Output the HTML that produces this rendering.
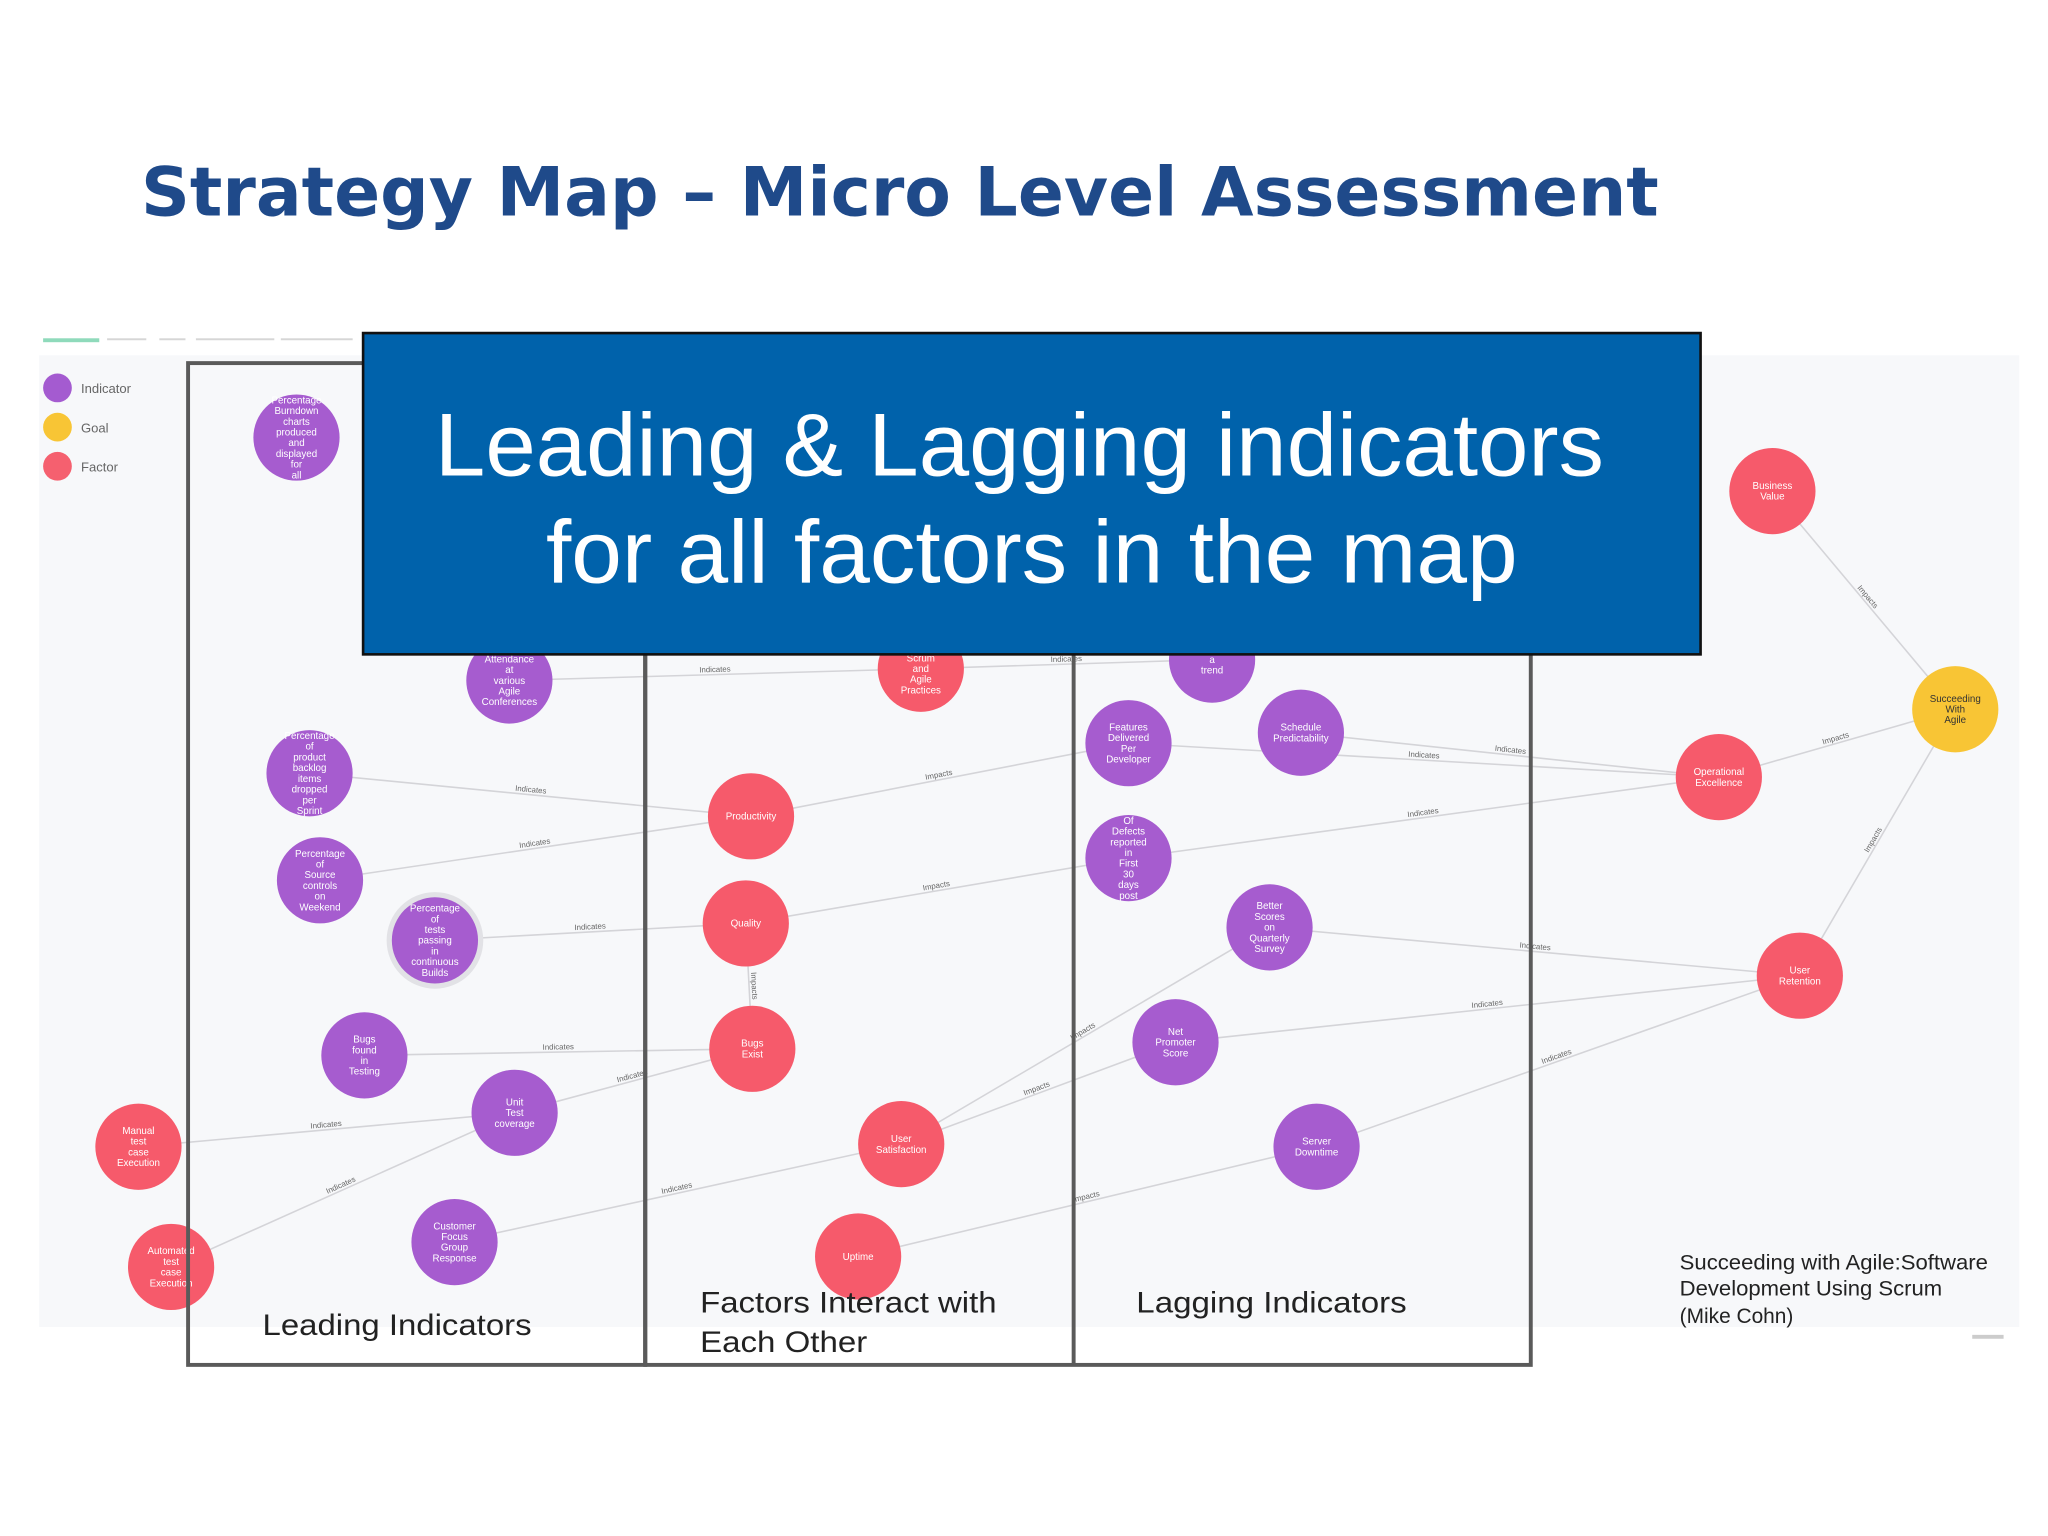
<!DOCTYPE html>
<html><head><meta charset="utf-8"><style>
html,body{margin:0;padding:0;background:#fff;}
svg{display:block;}
</style></head><body>
<svg id="chart" width="2048" height="1536" viewBox="0 0 1568 1176" xmlns="http://www.w3.org/2000/svg" font-family="Liberation Sans, sans-serif">
<rect width="1568" height="1176" fill="#ffffff"/>
<text x="108" y="165" font-family="DejaVu Sans, sans-serif" font-weight="bold" font-size="52" fill="#1f4a8a" textLength="1162" lengthAdjust="spacingAndGlyphs">Strategy Map – Micro Level Assessment</text>
<rect x="30" y="272" width="1516" height="744" fill="#f7f8fa"/>
<rect x="33" y="259" width="43" height="3" fill="#8fdabb"/>
<g fill="#d6d6d6"><rect x="82" y="259" width="30" height="1.5"/><rect x="122" y="259" width="20" height="1.5"/><rect x="150" y="259" width="60" height="1.5"/><rect x="215" y="259" width="55" height="1.5"/></g>
<g id="legend" font-size="10" fill="#666">
<circle cx="44" cy="297" r="11" fill="#a45bd0"/><text x="62" y="301">Indicator</text>
<circle cx="44" cy="327" r="11" fill="#f8c535"/><text x="62" y="331">Goal</text>
<circle cx="44" cy="357" r="11" fill="#f5606f"/><text x="62" y="361">Factor</text>
</g>
<g id="edges"></g>
<g id="nodes"></g>
<g fill="none" stroke="#5a5a5a" stroke-width="3">
<rect x="144" y="278" width="350" height="767"/>
<line x1="494" y1="278" x2="494" y2="1045"/>
<rect x="494" y="278" width="678" height="767"/>
<line x1="822" y1="278" x2="822" y2="1045"/>
</g>
<text x="201" y="1022" font-size="23" fill="#222" textLength="206" lengthAdjust="spacingAndGlyphs">Leading Indicators</text>
<text x="536" y="1005" font-size="23" fill="#222" textLength="227" lengthAdjust="spacingAndGlyphs">Factors Interact with</text>
<text x="536" y="1035" font-size="23" fill="#222" textLength="128" lengthAdjust="spacingAndGlyphs">Each Other</text>
<text x="870" y="1005" font-size="23" fill="#222" textLength="207" lengthAdjust="spacingAndGlyphs">Lagging Indicators</text>
<g font-size="16" fill="#222">
<text x="1286" y="972" textLength="236" lengthAdjust="spacingAndGlyphs">Succeeding with Agile:Software</text>
<text x="1286" y="992" textLength="201" lengthAdjust="spacingAndGlyphs">Development Using Scrum</text>
<text x="1286" y="1013">(Mike Cohn)</text>
</g>
<rect x="1510" y="1022" width="24" height="3" fill="#ccc"/>
<g>
<rect x="278" y="255" width="1024" height="246" fill="#0062ab" stroke="#111" stroke-width="2"/>
<text x="333" y="364" font-size="68" fill="#fff" textLength="895" lengthAdjust="spacingAndGlyphs">Leading &amp; Lagging indicators</text>
<text x="418" y="446" font-size="68" fill="#fff" textLength="744" lengthAdjust="spacingAndGlyphs">for all factors in the map</text>
</g>
</svg>
<script>
const nodeIds=["burndown","attend","backlog","source","tests","bugsfound","unittest","custfocus","trend","features","schedule","defects","better","nps","server","bizval","opex","retention","scrum","product","quality","bugsexist","usersat","uptime","manual","automated","goal"];
const nodeLabels=[["Percentage","Burndown","charts","produced","and","displayed","for","all"],["Attendance","at","various","Agile","Conferences"],["Percentage","of","product","backlog","items","dropped","per","Sprint"],["Percentage","of","Source","controls","on","Weekend"],["Percentage","of","tests","passing","in","continuous","Builds"],["Bugs","found","in","Testing"],["Unit","Test","coverage"],["Customer","Focus","Group","Response"],["to","a","trend"],["Features","Delivered","Per","Developer"],["Schedule","Predictability"],["Of","Defects","reported","in","First","30","days","post"],["Better","Scores","on","Quarterly","Survey"],["Net","Promoter","Score"],["Server","Downtime"],["Business","Value"],["Operational","Excellence"],["User","Retention"],["in","Scrum","and","Agile","Practices"],["Productivity"],["Quality"],["Bugs","Exist"],["User","Satisfaction"],["Uptime"],["Manual","test","case","Execution"],["Automated","test","case","Execution"],["Succeeding","With","Agile"]];
const nodeTypes=["I","I","I","I","I","I","I","I","I","I","I","I","I","I","I","F","F","F","F","F","F","F","F","F","F","F","G"];
const nodeX=[227,390,237,245,333,279,394,348,928,864,996,864,972,900,1008,1357,1316,1378,705,575,571,576,690,657,106,131,1497];
const nodeY=[335,521,592,674,720,808,852,951,505,569,561,657,710,798,878,376,595,747,512,625,707,803,876,962,878,970,543];
const edgeFrom=["attend","scrum","backlog","source","product","tests","quality","quality","bugsfound","unittest","manual","automated","custfocus","usersat","usersat","uptime","features","schedule","defects","better","nps","server","opex","retention","bizval"];
const edgeTo=["scrum","trend","product","product","features","quality","defects","bugsexist","bugsexist","bugsexist","unittest","unittest","usersat","better","nps","server","opex","opex","opex","retention","retention","retention","goal","goal","goal"];
const edgeLabels=["Indicates","Indicates","Indicates","Indicates","Impacts","Indicates","Impacts","Impacts","Indicates","Indicates","Indicates","Indicates","Indicates","Impacts","Impacts","Impacts","Indicates","Indicates","Indicates","Indicates","Indicates","Indicates","Impacts","Impacts","Impacts"];
const colors={I:"#a65ccf",F:"#f65a6b",G:"#f8c535"};
const R=33;
const NS="http://www.w3.org/2000/svg";
const eg=document.getElementById("edges"),ng=document.getElementById("nodes");
function pos(id){const i=nodeIds.indexOf(id);return [nodeX[i],nodeY[i]];}
edgeFrom.forEach((f,i)=>{
 const [x1,y1]=pos(f),[x2,y2]=pos(edgeTo[i]);
 const l=document.createElementNS(NS,"line");
 
 
 l.setAttribute("x1",x1);l.setAttribute("y1",y1);l.setAttribute("x2",x2);l.setAttribute("y2",y2);
 l.setAttribute("stroke","#d4d4d8");l.setAttribute("stroke-width","1.2");
 eg.appendChild(l);
 const t=document.createElementNS(NS,"text");
 
 
 const mx=(x1+x2)/2,my=(y1+y2)/2;
 let a=Math.atan2(y2-y1,x2-x1)*180/Math.PI; if(a>90)a-=180; if(a<-90)a+=180;
 t.setAttribute("x",mx);t.setAttribute("y",my-2);t.setAttribute("font-size","6");t.setAttribute("fill","#666");
 t.setAttribute("text-anchor","middle");t.setAttribute("transform","rotate("+a+" "+mx+" "+my+")");
 t.textContent=edgeLabels[i];eg.appendChild(t);
});
nodeIds.forEach((id,i)=>{
 const g=document.createElementNS(NS,"g");
 
 
 if(id==="tests"){const h=document.createElementNS(NS,"circle");h.setAttribute("cx",nodeX[i]);h.setAttribute("cy",nodeY[i]);h.setAttribute("r",R+4);h.setAttribute("fill","#e2e2e6");g.appendChild(h);}
 const c=document.createElementNS(NS,"circle");
 c.setAttribute("cx",nodeX[i]);c.setAttribute("cy",nodeY[i]);c.setAttribute("r",R);c.setAttribute("fill",colors[nodeTypes[i]]);
 g.appendChild(c);
 const lines=nodeLabels[i],lh=8.2,y0=nodeY[i]-(lines.length-1)*lh/2+2.5;
 lines.forEach((s,k)=>{const t=document.createElementNS(NS,"text");
  t.setAttribute("x",nodeX[i]);t.setAttribute("y",y0+k*lh);t.setAttribute("font-size","7.5");
  t.setAttribute("fill",nodeTypes[i]==="G"?"#333":"#fff");t.setAttribute("text-anchor","middle");
  t.textContent=s;g.appendChild(t);});
 ng.appendChild(g);
});
</script>
</body></html>
